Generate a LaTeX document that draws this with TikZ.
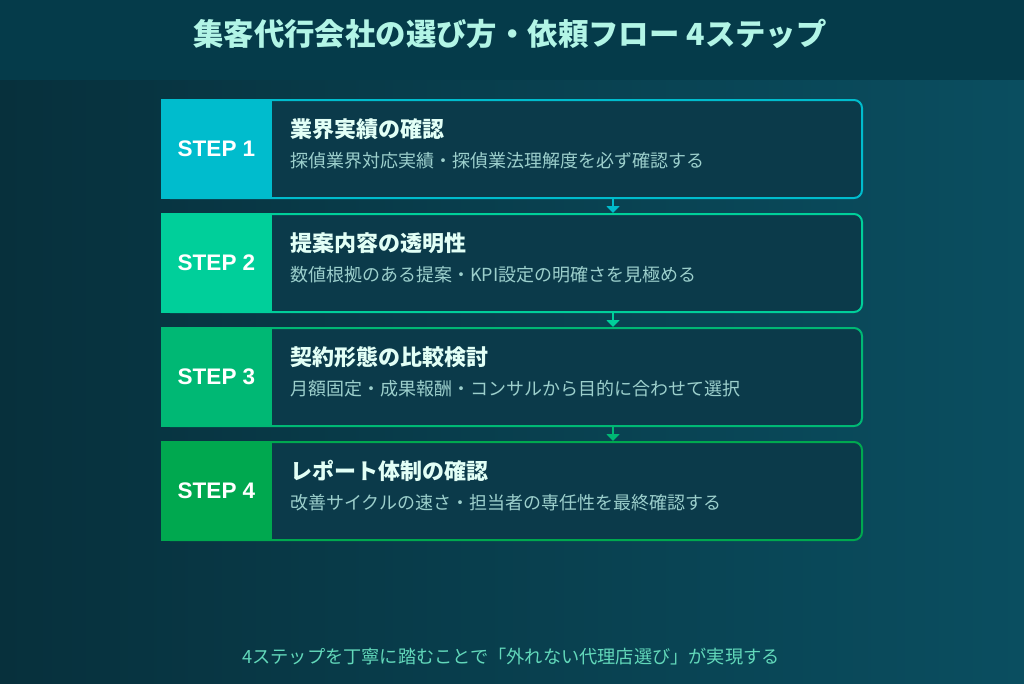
\documentclass[tikz,border=0pt]{standalone}
\usepackage{fontspec}
\setmainfont{Noto Sans CJK JP}
\newfontfamily\tagfont{Liberation Sans}
\usetikzlibrary{arrows.meta}

\definecolor{bandbg}{HTML}{053B4A}
\definecolor{bgleft}{HTML}{07303C}
\definecolor{bgright}{HTML}{0A4E60}
\definecolor{boxbg}{HTML}{0B3A4A}
\definecolor{stepA}{HTML}{00BCCD}
\definecolor{stepB}{HTML}{00CF9A}
\definecolor{stepC}{HTML}{00B874}
\definecolor{stepD}{HTML}{00A84F}
\definecolor{titletxt}{HTML}{B2F5E6}
\definecolor{headtxt}{HTML}{E2FFF6}
\definecolor{desctxt}{HTML}{9CCFCC}
\definecolor{foottxt}{HTML}{62D8BA}

\begin{document}
\begin{tikzpicture}[x=1pt,y=-1pt,
    stepbox/.style={draw=#1, fill=boxbg, line width=2pt, rounded corners=8pt,
      minimum width=700pt, minimum height=98pt, inner sep=0pt},
    steptag/.style={fill=#1, text=white, minimum width=111pt, minimum height=100pt,
      inner sep=0pt, font=\tagfont\fontsize{22.5}{22.5}\selectfont\bfseries},
    head/.style={anchor=west, text=headtxt, inner sep=0pt,
      font=\fontsize{22}{22}\selectfont\bfseries},
    desc/.style={anchor=west, text=desctxt, inner sep=0pt,
      font=\fontsize{18}{18}\selectfont},
    arr/.style={draw=#1, line width=2pt, -{Triangle[width=13pt,length=7pt]}}]
      \useasboundingbox (0,0) rectangle (1024,683) ;
      \shade[left color=bgleft, right color=bgright] (0,0) rectangle (1024,683) ;
      \fill[bandbg] (0,0) rectangle (1024,80) ;
      \node[text=titletxt, font=\fontsize{30.4}{30.4}\selectfont\bfseries] (title) at (510,34)
        {集客代行会社の選び方・依頼フロー 4ステップ} ;
      % steps
      \node[stepbox=stepA] (box1) at (512,149) {} ;
      \node[stepbox=stepB] (box2) at (512,263) {} ;
      \node[stepbox=stepC] (box3) at (512,377) {} ;
      \node[stepbox=stepD] (box4) at (512,491) {} ;
      \node[steptag=stepA] (tag1) at (216.5,149) {STEP 1} ;
      \node[steptag=stepB] (tag2) at (216.5,263) {STEP 2} ;
      \node[steptag=stepC] (tag3) at (216.5,377) {STEP 3} ;
      \node[steptag=stepD] (tag4) at (216.5,491) {STEP 4} ;
      \node[head] (head1) at (290,129) {業界実績の確認} ;
      \node[desc] (desc1) at (290,161) {探偵業界対応実績・探偵業法理解度を必ず確認する} ;
      \node[head] (head2) at (290,243) {提案内容の透明性} ;
      \node[desc] (desc2) at (290,275) {数値根拠のある提案・KPI設定の明確さを見極める} ;
      \node[head] (head3) at (290,357) {契約形態の比較検討} ;
      \node[desc] (desc3) at (290,389) {月額固定・成果報酬・コンサルから目的に合わせて選択} ;
      \node[head] (head4) at (290,471) {レポート体制の確認} ;
      \node[desc] (desc4) at (290,503) {改善サイクルの速さ・担当者の専任性を最終確認する} ;
      % arrows
      \coordinate (ax) at (613,0) ;
      \draw[arr=stepA] (box1.south -| ax) -- (box2.north -| ax) ;
      \draw[arr=stepB] (box2.south -| ax) -- (box3.north -| ax) ;
      \draw[arr=stepC] (box3.south -| ax) -- (box4.north -| ax) ;
      \node[text=foottxt, font=\fontsize{18.2}{18.2}\selectfont] (foot) at (511,657)
        {4ステップを丁寧に踏むことで「外れない代理店選び」が実現する} ;
    \end{tikzpicture}
\end{document}
